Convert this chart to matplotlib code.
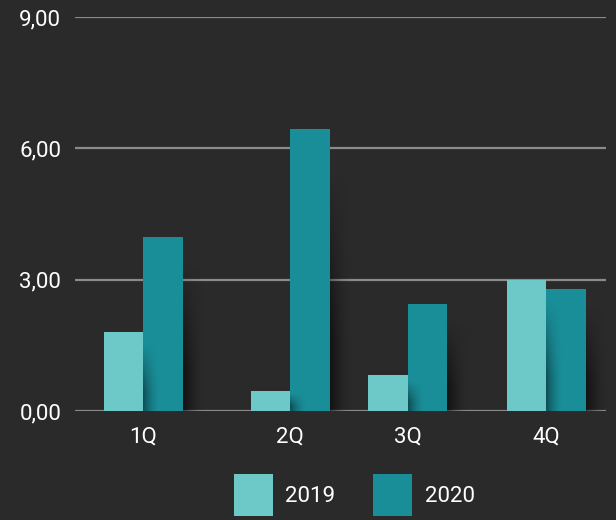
import numpy as np
import matplotlib.pyplot as plt

quarters = ['1Q', '2Q', '3Q', '4Q']
v2019 = [1.81, 0.46, 0.82, 3.00]
v2020 = [3.98, 6.45, 2.45, 2.79]
yticks = [0, 3, 6, 9]
ytick_labels = ['0,00', '3,00', '6,00', '9,00']

bg = '#2a2a2a'
c19 = '#6cc9c8'
c20 = '#1a8e98'

plt.rcParams['font.family'] = ['Roboto', 'DejaVu Sans']

fig = plt.figure(figsize=(6.16, 5.2), dpi=100, facecolor=bg)
ax = fig.add_axes([0.122, 0.2096, 0.862, 0.7574], facecolor=bg)

# group centres are not evenly spaced in the original
centers = np.array([0, 1.094, 1.97, 3.0])
w = 0.294

b1 = ax.bar(centers - w / 2, v2019, w, color=c19, zorder=3, label='2019')
b2 = ax.bar(centers + w / 2, v2020, w, color=c20, zorder=3, label='2020')


def shadow(x0, h, width=0.16, strength=0.55, zorder=4):
    # soft drop shadow to the right of a bar
    nx, ny = 40, 40
    gx = np.linspace(1, 0, nx) ** 1.6
    gy = np.clip(np.linspace(0, 1.4, ny), 0, 1)
    a = np.outer(gy, gx) * strength
    img = np.zeros((ny, nx, 4))
    img[..., 3] = a
    ax.imshow(img, extent=[x0, x0 + width, 0, h * 0.85], origin='upper',
              aspect='auto', zorder=zorder, interpolation='bilinear')


for r in b1:
    shadow(r.get_x() + r.get_width(), r.get_height(), width=0.12,
           strength=0.45, zorder=3.5)
for r in b2:
    shadow(r.get_x() + r.get_width(), r.get_height(), zorder=2.5)

ax.set_xlim(-0.506, 3.447)
ax.set_ylim(0, 9)
ax.set_yticks(yticks)
ax.set_yticklabels(ytick_labels)
ax.set_xticks(centers)
ax.set_xticklabels(quarters)
ax.yaxis.grid(True, color='#8a8a8a', linewidth=1.6, zorder=1)
ax.set_axisbelow(True)
for s in ax.spines.values():
    s.set_visible(False)
ax.tick_params(length=0, colors='white', labelsize=16)
ax.tick_params(axis='y', pad=10)
ax.tick_params(axis='x', pad=11)

leg = fig.legend(handles=[b1, b2], loc='upper left', bbox_to_anchor=(0.38, 0.0885),
                 borderaxespad=0, borderpad=0,
                 ncol=2, frameon=False, fontsize=16, labelcolor='white',
                 handlelength=1.76, handleheight=2.55, handletextpad=0.55,
                 columnspacing=1.7)

fig.savefig('out.png', dpi=100, facecolor=bg)
